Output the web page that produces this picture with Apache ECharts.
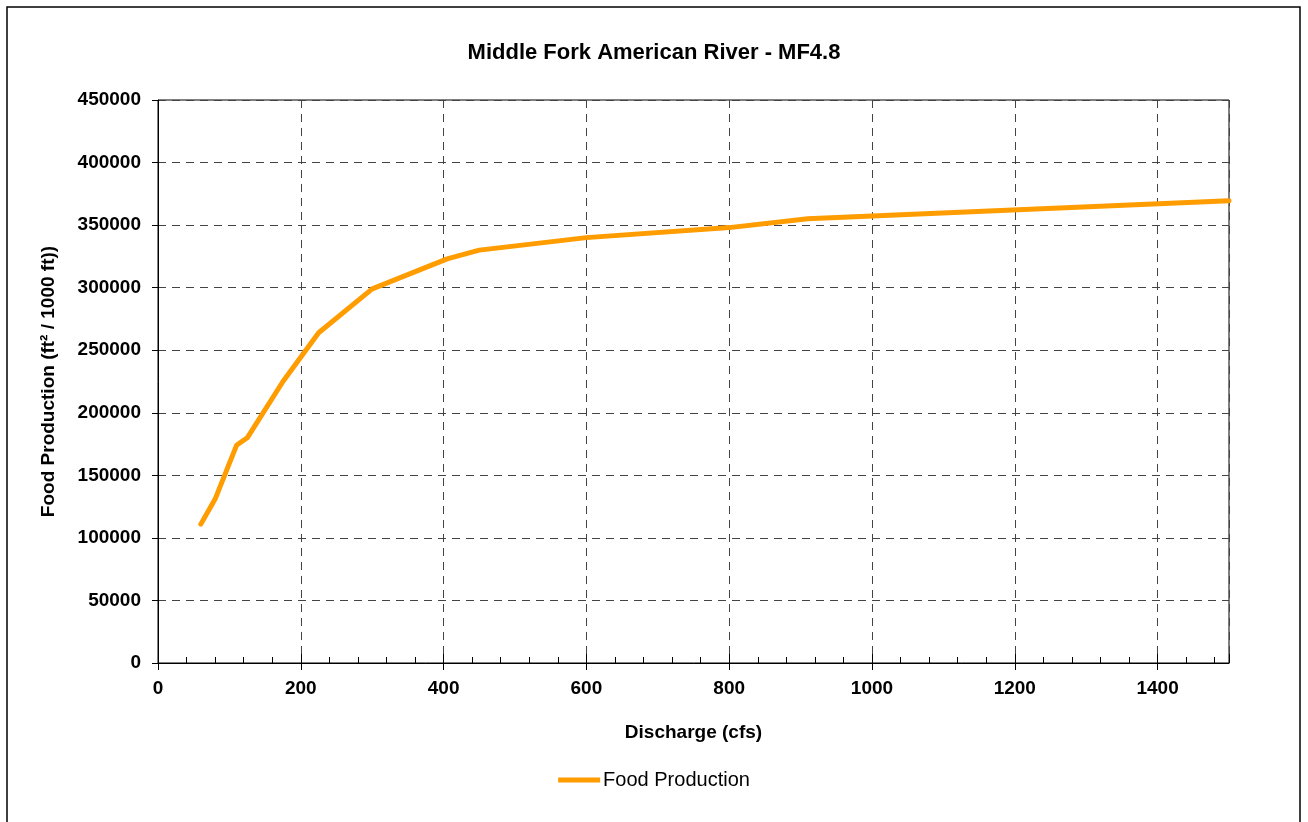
<!DOCTYPE html>
<html>
<head>
<meta charset="utf-8">
<script src="https://cdn.jsdelivr.net/npm/echarts@6/dist/echarts.min.js"></script>
<style>
html,body{margin:0;padding:0;background:#fff;}
#chart{width:1308px;height:822px;}
</style>
</head>
<body>
<div id="chart"></div>
<script>
const discharge = [60, 80, 110, 125, 175, 225, 300, 405, 450, 600, 800, 910, 1500];
const foodProduction = [111000, 131000, 174000, 180000, 225000, 264000, 299000, 323000, 330000, 340000, 348000, 355000, 369500];
const seriesName = 'Food Production';
const titleText = 'Middle Fork American River - MF4.8';
const xName = 'Discharge (cfs)';
const yName = 'Food Production (ft\u00B2 / 1000 ft))';

const FONT = '"Liberation Sans", Arial, sans-serif';
const chart = echarts.init(document.getElementById('chart'), null, {renderer: 'canvas'});
const gridDash = {color: '#444', type: [8, 6], width: 1};

chart.setOption({
  backgroundColor: '#fff',
  animation: false,
  title: {
    text: titleText, left: 'center', top: 37,
    textStyle: {fontFamily: FONT, fontWeight: 'bold', fontSize: 22, color: '#000'}
  },
  legend: {
    data: [seriesName], left: 'center', top: 765, icon: 'rect',
    itemWidth: 42, itemHeight: 5, itemGap: 10,
    textStyle: {fontFamily: FONT, fontSize: 20, color: '#000', padding: [0, 0, 0, -2]}
  },
  grid: {
    left: 158, top: 100, right: 79, bottom: 159,
    show: true, borderColor: '#000', borderWidth: 1, backgroundColor: 'transparent'
  },
  xAxis: [{
    type: 'value', min: 0, max: 1500, interval: 200,
    name: xName, nameLocation: 'middle', nameGap: 60,
    nameTextStyle: {fontFamily: FONT, fontWeight: 'bold', fontSize: 19, color: '#000'},
    axisLine: {show: true, lineStyle: {color: '#000', width: 1}},
    axisTick: {show: true, inside: false, length: 7, lineStyle: {color: '#000'}},
    axisLabel: {
      fontFamily: FONT, fontWeight: 'bold', fontSize: 19, color: '#000', margin: 16,
      showMaxLabel: false,
      formatter: v => (v % 200 === 0 ? String(v) : '')
    },
    splitLine: {show: true, lineStyle: gridDash}
  }, {
    type: 'value', min: 0, max: 1500, interval: 200, position: 'bottom',
    axisLine: {show: false},
    axisTick: {show: true, inside: true, length: 9, lineStyle: {color: '#000'}},
    minorTick: {show: true, splitNumber: 5, length: 6, lineStyle: {color: '#000'}},
    axisLabel: {show: false},
    splitLine: {show: false}
  }],
  yAxis: {
    type: 'value', min: 0, max: 450000, interval: 50000,
    name: yName, nameLocation: 'middle', nameGap: 100,
    nameTextStyle: {fontFamily: FONT, fontWeight: 'bold', fontSize: 19, color: '#000'},
    axisLine: {show: true, lineStyle: {color: '#000', width: 1}},
    axisTick: {show: true, inside: false, length: 6, lineStyle: {color: '#000'}},
    axisLabel: {fontFamily: FONT, fontWeight: 'bold', fontSize: 19, color: '#000', margin: 17,
      formatter: v => String(v)},
    splitLine: {show: true, lineStyle: gridDash}
  },
  graphic: [{
    type: 'rect', silent: true, z: 100,
    shape: {x: 7, y: 7, width: 1293, height: 830},
    style: {fill: 'none', stroke: '#000', lineWidth: 1.5}
  }],
  series: [{
    name: seriesName, type: 'line', xAxisIndex: 0,
    data: discharge.map((x, i) => [x, foodProduction[i]]),
    showSymbol: false, symbol: 'none',
    lineStyle: {color: '#FF9C00', width: 5, join: 'round', cap: 'round'},
    itemStyle: {color: '#FF9C00'}
  }]
});
</script>
</body>
</html>
